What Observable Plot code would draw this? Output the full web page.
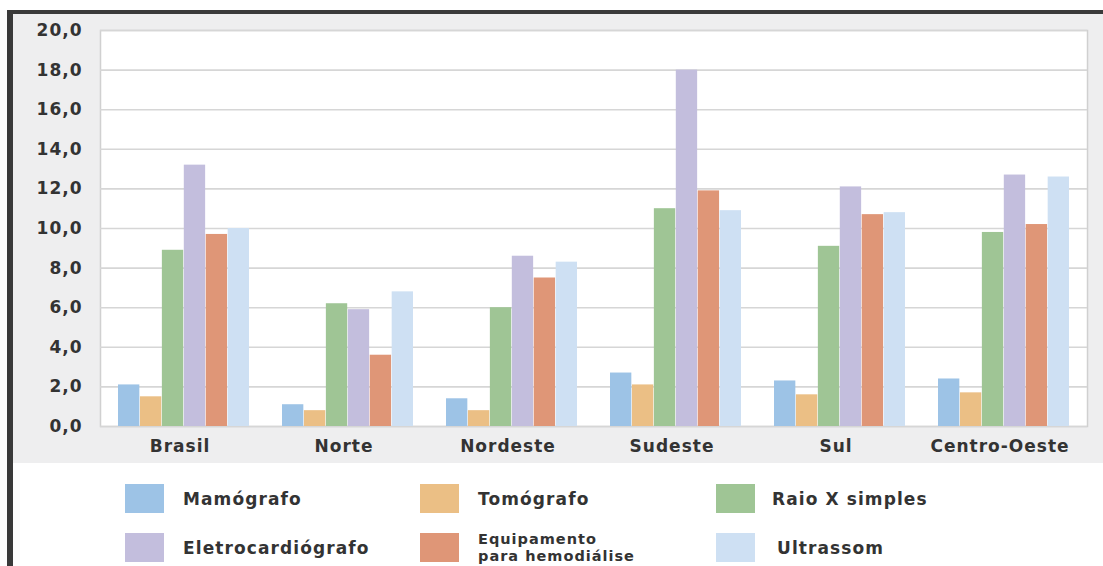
<!DOCTYPE html>
<html>
<head>
<meta charset="utf-8">
<script src="https://cdn.jsdelivr.net/npm/d3@7"></script>
<script src="https://cdn.jsdelivr.net/npm/@observablehq/plot@0.6"></script>
<style>
  html, body { margin: 0; padding: 0; background: #ffffff; }
  #frame {
    position: absolute; left: 7px; top: 10px; width: 1096px; height: 556px;
    border-top: 4px solid #3a3a3a; border-left: 6px solid #3a3a3a;
    background: #ffffff; overflow: hidden;
  }
  #chart { position: absolute; left: 0; top: 0; }
  .item { position: absolute; display: flex; align-items: center; height: 29px;
    font-family: "DejaVu Sans", sans-serif; font-weight: bold; font-size: 17px;
    letter-spacing: 1.1px; color: #333; }
  .sw { width: 39px; height: 29px; flex: none; margin-right: 19px; }
  .two div { font-size: 14.5px; line-height: 17px; height: 17px; letter-spacing: 1px; }
</style>
</head>
<body>
<div id="frame">
  <div id="chart"></div>
  <div id="legend"></div>
</div>
<script>
const regions = ["Brasil", "Norte", "Nordeste", "Sudeste", "Sul", "Centro-Oeste"];
const equipment = ["Mamógrafo", "Tomógrafo", "Raio X simples", "Eletrocardiógrafo", "Equipamento para hemodiálise", "Ultrassom"];
const colors = ["#9dc3e6", "#ebbf85", "#9fc595", "#c3bedd", "#df9677", "#cee0f3"];

const mamografo        = [2.1, 1.1, 1.4, 2.7, 2.3, 2.4];
const tomografo        = [1.5, 0.8, 0.8, 2.1, 1.6, 1.7];
const raioX            = [8.9, 6.2, 6.0, 11.0, 9.1, 9.8];
const eletrocardiografo= [13.2, 5.9, 8.6, 18.0, 12.1, 12.7];
const hemodialise      = [9.7, 3.6, 7.5, 11.9, 10.7, 10.2];
const ultrassom        = [10.0, 6.8, 8.3, 10.9, 10.8, 12.6];
const yTicks = [0, 2, 4, 6, 8, 10, 12, 14, 16, 18, 20];

const series = [mamografo, tomografo, raioX, eletrocardiografo, hemodialise, ultrassom];
const table = [];
series.forEach((vals, i) => vals.forEach((v, j) => table.push({region: regions[j], equipment: equipment[i], value: v})));

const W = 1090, H = 449, mL = 87, mR = 16, mT = 16, mB = 37;
const pInner = 0.2, pOuter = 0.1;
const step = (W - mL - mR) / (regions.length - pInner + 2 * pOuter);
const bw = step * (1 - pInner) / equipment.length;

const barMarks = equipment.map((eq, i) => Plot.barY(table.filter(d => d.equipment === eq), {
  x: "region", y: "value", fill: "equipment",
  insetLeft: i * bw, insetRight: (equipment.length - 1 - i) * bw
}));

const chart = Plot.plot({
  width: W, height: H,
  marginLeft: mL, marginRight: mR, marginTop: mT, marginBottom: mB,
  style: { background: "#eeeeef", fontFamily: "DejaVu Sans, sans-serif", fontWeight: "bold", fontSize: "17px", color: "#333", letterSpacing: "1px", overflow: "visible" },
  x: { domain: regions, paddingInner: pInner, paddingOuter: pOuter, label: null },
  y: { domain: [0, 20], ticks: yTicks, label: null },
  color: { domain: equipment, range: colors },
  marks: [
    Plot.frame({ fill: "white", stroke: "#d0d0d0", strokeWidth: 1.5 }),
    Plot.gridY(yTicks, { stroke: "#d6d6d6", strokeOpacity: 1, strokeWidth: 1.6 }),
    ...barMarks,
    Plot.axisY(yTicks, { tickSize: 0, tickPadding: 18, fontSize: 17, fill: "#333", label: null, tickFormat: d => d.toFixed(1).replace(".", ",") }),
    Plot.axisX({ tickSize: 0, tickPadding: 13, fontSize: 17, fill: "#333", label: null, dx: -4 })
  ]
});
document.getElementById("chart").appendChild(chart);

// legend: row 1 Mamógrafo, Tomógrafo, Raio X; row 2 Eletrocardiógrafo, Hemodiálise, Ultrassom
const pos = [
  [125 - 13, 484 - 14], [420 - 13, 484 - 14], [716 - 13, 484 - 14],
  [125 - 13, 533 - 14], [420 - 13, 533 - 14], [716 - 13, 533 - 14]
];
const legendEl = document.getElementById("legend");
equipment.forEach((eq, i) => {
  const [x, y] = pos[i];
  const item = document.createElement("div");
  item.className = "item";
  item.style.left = x + "px";
  item.style.top = y + "px";
  const sw = document.createElement("div");
  sw.className = "sw";
  sw.style.background = colors[i];
  if (i === 5) sw.style.marginRight = "22px";
  if (i === 2) sw.style.marginRight = "17px";
  item.appendChild(sw);
  const t = document.createElement("div");
  if (i === 4) {
    t.className = "two";
    const l1 = document.createElement("div"); l1.textContent = "Equipamento";
    const l2 = document.createElement("div"); l2.textContent = "para hemodiálise";
    t.appendChild(l1); t.appendChild(l2);
  } else {
    t.textContent = eq;
  }
  item.appendChild(t);
  legendEl.appendChild(item);
});
</script>
</body>
</html>
